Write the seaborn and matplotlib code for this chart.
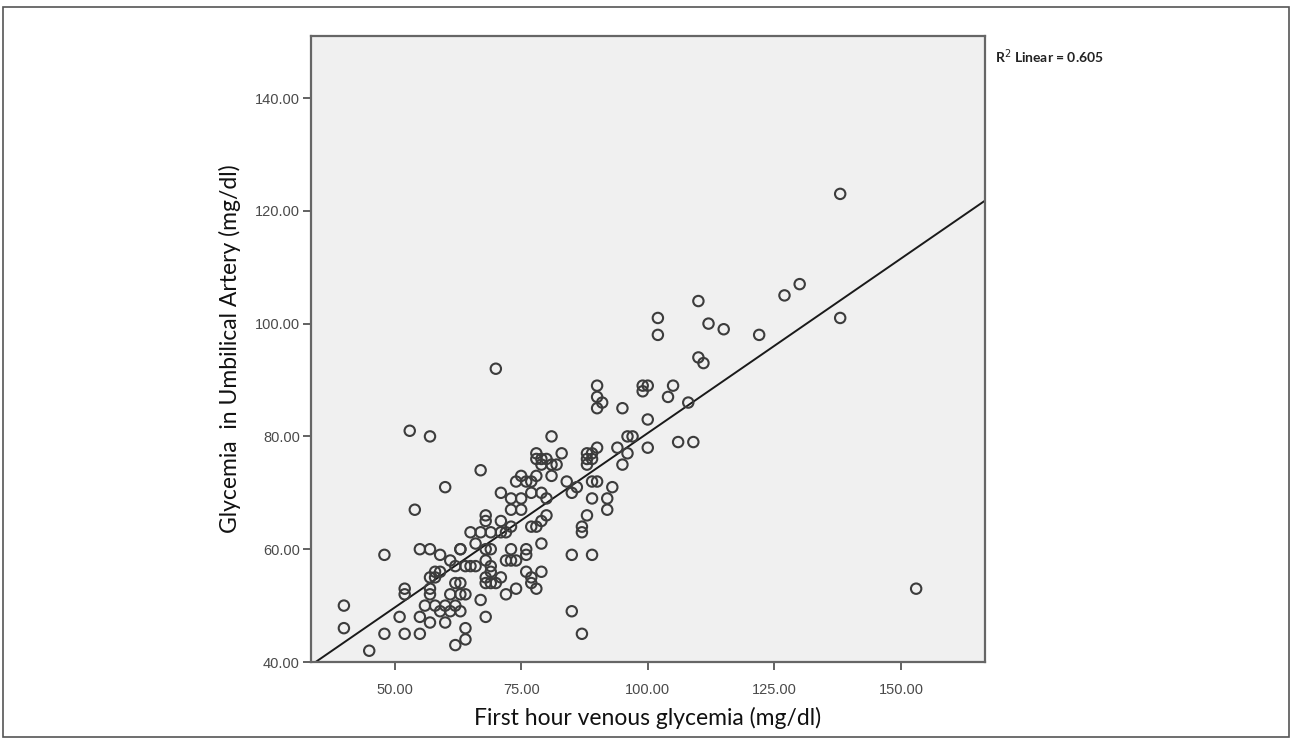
import numpy as np
import pandas as pd
import matplotlib
matplotlib.use("Agg")
import matplotlib.pyplot as plt
from matplotlib.patches import Rectangle
import seaborn as sns

# Valores (glucemia venosa 1a hora vs arteria umbilical)
venous = [138, 138, 130, 127, 110, 102, 102, 112, 115, 122, 110, 111, 70,
          90, 90, 91, 90, 99, 100, 99, 105, 104, 95, 108, 100,
          53, 57, 81, 96, 97, 106, 109, 100, 96, 95, 94, 90,
          88, 89, 88, 89, 88, 83, 78, 78, 79, 80, 81, 82, 79,
          67, 60, 75, 74, 76, 77, 78, 81, 84, 85, 86, 89, 90, 93,
          89, 92, 92, 88, 87, 87, 85, 89, 85, 87, 153,
          71, 73, 75, 75, 77, 79, 80, 73, 54, 80, 79, 77, 78,
          73, 72, 71, 68, 68, 71, 65, 67, 69, 66, 68, 69, 63, 63,
          55, 57, 59, 48, 73, 76, 76, 79, 72, 73, 74, 61,
          62, 64, 65, 66, 68, 69, 58, 59, 57, 58, 76, 77, 79,
          68, 69, 71, 68, 69, 62, 63, 64, 77, 74, 78, 70, 72,
          52, 52, 57, 57, 61, 63, 56, 58, 60, 62, 63, 61, 59,
          67, 40, 40, 51, 55, 57, 60, 68, 48, 52, 55, 64, 64, 62, 45]
umbilical = [123, 101, 107, 105, 104, 101, 98, 100, 99, 98, 94, 93, 92,
             89, 87, 86, 85, 89, 89, 88, 89, 87, 85, 86, 83,
             81, 80, 80, 80, 80, 79, 79, 78, 77, 75, 78, 78,
             77, 77, 76, 76, 75, 77, 77, 76, 76, 76, 75, 75, 75,
             74, 71, 73, 72, 72, 72, 73, 73, 72, 70, 71, 72, 72, 71,
             69, 69, 67, 66, 64, 63, 59, 59, 49, 45, 53,
             70, 69, 69, 67, 70, 70, 69, 67, 67, 66, 65, 64, 64,
             64, 63, 63, 66, 65, 65, 63, 63, 63, 61, 60, 60, 60, 60,
             60, 60, 59, 59, 60, 60, 59, 61, 58, 58, 58, 58,
             57, 57, 57, 57, 58, 57, 56, 56, 55, 55, 56, 55, 56,
             55, 56, 55, 54, 54, 54, 54, 52, 54, 53, 53, 54, 52,
             53, 52, 53, 52, 52, 52, 50, 50, 50, 50, 49, 49, 49,
             51, 50, 46, 48, 48, 47, 47, 48, 45, 45, 45, 46, 44, 43, 42]

x_ticks = [50, 75, 100, 125, 150]
y_ticks = [40, 60, 80, 100, 120, 140]
r2_label = "R$^2$ Linear = 0.605"

df = pd.DataFrame({"venous": venous, "umbilical": umbilical})

sns.set_style("white")
plt.rcParams['font.family'] = ['Liberation Sans', 'DejaVu Sans']

fig = plt.figure(figsize=(12.92, 7.40), dpi=100)
ax = fig.add_axes([0.2407, 0.1054, 0.5217, 0.8460])
ax.set_facecolor("#f0f0f0")
ax.set_xlim(33.5, 166.6)
ax.set_ylim(40, 151)

sns.scatterplot(data=df, x="venous", y="umbilical", ax=ax, marker="o",
                s=56, facecolors="none", edgecolor="#3c3c3c", linewidth=1.5,
                zorder=3)
sns.regplot(data=df, x="venous", y="umbilical", ax=ax, scatter=False, ci=None,
            truncate=False, line_kws={"color": "#1a1a1a", "linewidth": 1.4})

ax.set_xticks(x_ticks)
ax.set_yticks(y_ticks)
ax.set_xticklabels([f"{t:.2f}" for t in x_ticks])
ax.set_yticklabels([f"{t:.2f}" for t in y_ticks])
ax.tick_params(axis="both", which="both", direction="out", length=6, width=1.3,
               color="#555555", labelsize=10.5, labelcolor="#4a4a4a",
               bottom=True, left=True, top=False, right=False)
ax.tick_params(axis="x", pad=9)
ax.tick_params(axis="y", pad=2)
for sp in ax.spines.values():
    sp.set_color("#666666")
    sp.set_linewidth(1.6)

ax.set_xlabel("First hour venous glycemia (mg/dl)", fontsize=16.5,
              family=["Lato", "DejaVu Sans"], color="#111111")
ax.set_ylabel("Glycemia  in Umbilical Artery (mg/dl)", fontsize=16.5,
              family=["Lato", "DejaVu Sans"], color="#111111")
ax.xaxis.set_label_coords(0.5, -0.072)
ax.yaxis.set_label_coords(-0.104, 0.5)

fig.text(0.770, 0.923, r2_label, fontsize=10, fontweight="bold",
         family=["Lato", "DejaVu Sans"], color="#222222", ha="left", va="center")

# marco exterior de la figura
fig.patches.append(Rectangle((0.002, 0.004), 0.996, 0.986, transform=fig.transFigure,
                             fill=False, edgecolor="#555555", linewidth=1.2))

fig.savefig("out.png", dpi=100)
